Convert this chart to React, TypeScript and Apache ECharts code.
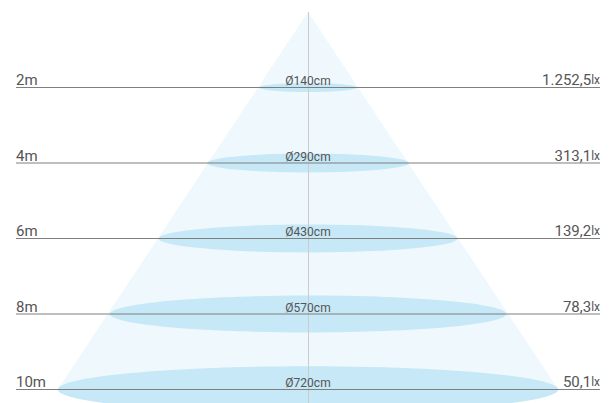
import React, { useEffect, useRef } from "react";
import * as echarts from "echarts";

// ---- data ----
const distances = [2, 4, 6, 8, 10]; // m
const distanceLabels = ["2m", "4m", "6m", "8m", "10m"];
const diameters = [140, 290, 430, 570, 720]; // cm
const illuminance = [1252.5, 313.1, 139.2, 78.3, 50.1]; // lx
const unitLabel = "lx";

function fmtDE(v: number): string {
  const [i, d] = v.toFixed(1).split(".");
  return i.replace(/\B(?=(\d{3})+(?!\d))/g, ".") + "," + d;
}

const FONT = "Roboto, 'Noto Sans', sans-serif";
const TEXT_COLOR = "#555";

export default function App() {
  const ref = useRef<HTMLDivElement>(null);
  useEffect(() => {
    if (!ref.current) return;
    const chart = echarts.init(ref.current, undefined, { renderer: "svg" });
    const maxIdx = diameters.length - 1;
    const ellipseData = distances.map((d, i) => [diameters[i], d]);
    const option: any = {
      animation: false,
      grid: { left: 16, right: 15, top: 12, bottom: 13.5 },
      xAxis: { type: "value", min: -420, max: 420, show: false },
      yAxis: { type: "value", min: 0, max: 10, inverse: true, show: false },
      series: [
        {
          type: "custom",
          silent: true,
          z: 1,
          clip: false,
          data: [[diameters[maxIdx], distances[maxIdx]]],
          renderItem: (params: any, api: any) => {
            const r = api.value(0) / 2;
            const d = api.value(1);
            return {
              type: "polygon",
              shape: {
                points: [api.coord([0, 0]), api.coord([-r, d]), api.coord([r, d])],
              },
              style: { fill: "#eff8fc" },
            };
          },
        },
        {
          type: "custom",
          silent: true,
          z: 2,
          clip: false,
          data: ellipseData,
          renderItem: (params: any, api: any) => {
            const c = api.coord([0, api.value(1)]);
            const e = api.coord([api.value(0) / 2, api.value(1)]);
            const rx = e[0] - c[0];
            return {
              type: "ellipse",
              shape: { cx: c[0], cy: c[1], rx, ry: rx * 0.093 },
              style: { fill: "#c6e8f7" },
            };
          },
        },
        {
          type: "custom",
          silent: true,
          z: 3,
          clip: false,
          data: [[0, 0]],
          renderItem: (params: any, api: any) => {
            const p = api.coord([0, 0]);
            return {
              type: "line",
              shape: { x1: Math.round(p[0]) + 0.5, y1: p[1], x2: Math.round(p[0]) + 0.5, y2: api.getHeight() },
              style: { stroke: "#cccccc", lineWidth: 1 },
            };
          },
        },
        {
          type: "custom",
          silent: true,
          z: 4,
          clip: false,
          data: distances.map((d) => [0, d]),
          renderItem: (params: any, api: any) => {
            const a = api.coord([-420, api.value(1)]);
            const b = api.coord([420, api.value(1)]);
            return {
              type: "line",
              shape: { x1: a[0], y1: a[1], x2: b[0], y2: b[1] },
              style: { stroke: "#7f7f7f", lineWidth: 1 },
            };
          },
        },
        {
          type: "custom",
          silent: true,
          z: 5,
          clip: false,
          data: distances.map((d, i) => [i, d]),
          renderItem: (params: any, api: any) => {
            const i = api.value(0);
            const d = api.value(1);
            const l = api.coord([-420, d]);
            const c = api.coord([0, d]);
            const r = api.coord([420, d]);
            return {
              type: "group",
              children: [
                {
                  type: "text",
                  x: l[0],
                  y: l[1],
                  style: {
                    text: distanceLabels[i],
                    fill: TEXT_COLOR,
                    font: `15px ${FONT}`,
                    align: "left",
                    verticalAlign: "bottom",
                  },
                },
                {
                  type: "text",
                  x: c[0],
                  y: c[1] - 0.5,
                  style: {
                    text: "Ø" + diameters[i] + "cm",
                    fill: TEXT_COLOR,
                    font: `12px ${FONT}`,
                    align: "center",
                    verticalAlign: "bottom",
                  },
                },
                {
                  type: "text",
                  x: r[0],
                  y: r[1],
                  style: {
                    text: fmtDE(illuminance[i]) + "{u|" + unitLabel + "}",
                    fill: TEXT_COLOR,
                    font: `15px ${FONT}`,
                    fontSize: 15,
                    fontFamily: FONT,
                    align: "right",
                    verticalAlign: "bottom",
                    rich: {
                      u: { fontSize: 12, fontFamily: FONT, fill: TEXT_COLOR },
                    },
                  },
                },
              ],
            };
          },
        },
      ],
    };
    chart.setOption(option);
    return () => chart.dispose();
  }, []);
  return (
    <div
      ref={ref}
      style={{ position: "fixed", left: 0, top: 0, width: 615, height: 403, background: "#fff" }}
    />
  );
}
